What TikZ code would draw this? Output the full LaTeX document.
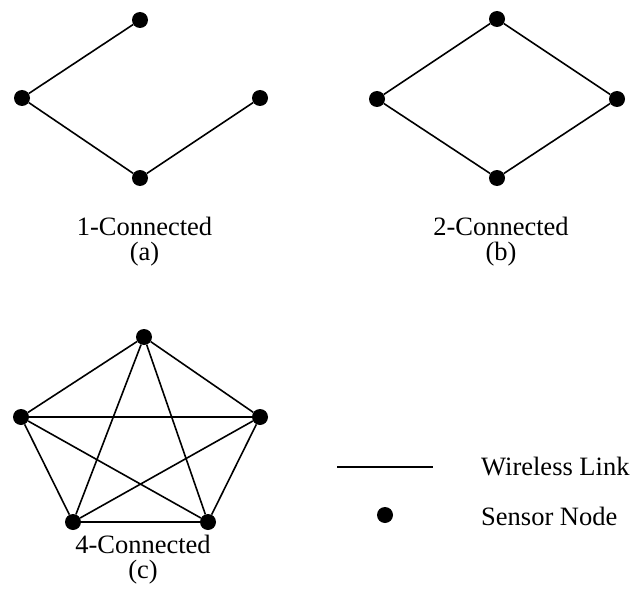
\documentclass[tikz,border=0pt]{standalone}
\usepackage{fontspec}
\setmainfont{Liberation Serif}
\begin{document}
\begin{tikzpicture}[x=1pt,y=-1pt,
  sensor/.style={circle,fill=black,inner sep=0pt,minimum size=16pt},
  link/.style={line width=1.6pt},
  caption/.style={font=\fontsize{26.5}{25}\selectfont,inner sep=0pt,align=center,anchor=north},
  legendtext/.style={font=\fontsize{26.5}{26}\selectfont,inner sep=0pt,anchor=west}]
\useasboundingbox (0,0) rectangle (635,594);

% (a) 1-connected
\node[sensor] (a1) at (140,20) {};
\node[sensor] (a2) at (22,98) {};
\node[sensor] (a3) at (140,178) {};
\node[sensor] (a4) at (260,98) {};
\draw[link] (a1) -- (a2) -- (a3) -- (a4);
\node[caption] (la) at (144.5,217) {1-Connected\\(a)};

% (b) 2-connected
\node[sensor] (b1) at (497,19) {};
\node[sensor] (b2) at (377,99) {};
\node[sensor] (b3) at (497,178) {};
\node[sensor] (b4) at (617,99) {};
\draw[link] (b1) -- (b2) -- (b3) -- (b4) -- (b1);
\node[caption] (lb) at (501,217) {2-Connected\\(b)};

% (c) 4-connected: complete graph on five nodes
\node[sensor] (c1) at (144,337) {};
\node[sensor] (c2) at (21,417) {};
\node[sensor] (c3) at (260,417) {};
\node[sensor] (c4) at (73,522) {};
\node[sensor] (c5) at (208,522) {};
\foreach \u/\v in {c1/c2,c1/c3,c1/c4,c1/c5,c2/c3,c2/c4,c2/c5,c3/c4,c3/c5,c4/c5}
  \draw[link] (\u) -- (\v);
\node[caption] (lc) at (143,535) {4-Connected\\(c)};

% legend
\coordinate (l1) at (337,467);
\coordinate (l2) at (433,467);
\draw[link] (l1) -- (l2);
\node[legendtext] (lw) at (481,467) {Wireless Link};
\node[sensor] (ls) at (385,515) {};
\node[legendtext] (ln) at (481,516) {Sensor Node};
\end{tikzpicture}
\end{document}
